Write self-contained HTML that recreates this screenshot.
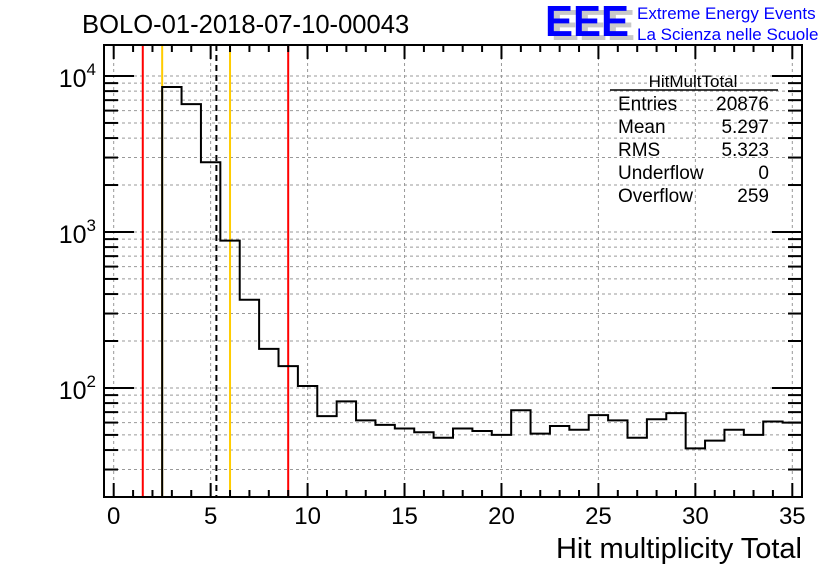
<!DOCTYPE html>
<html><head><meta charset="utf-8"><style>
body{margin:0;background:#fff;}
svg{display:block;font-family:"Liberation Sans",sans-serif;}
</style></head><body>
<svg id="c" width="836" height="572" xmlns="http://www.w3.org/2000/svg">
<text x="82" y="33" font-size="25.6">BOLO-01-2018-07-10-00043</text>
<g>
<text x="551" y="40" font-size="44" font-weight="bold" fill="#c8c8c8" textLength="84" lengthAdjust="spacingAndGlyphs">EEE</text>
<text x="545" y="36" font-size="44" font-weight="bold" fill="#0000ff" textLength="84" lengthAdjust="spacingAndGlyphs">EEE</text>
<text x="637" y="19" font-size="17" fill="#0000ff">Extreme Energy Events</text>
<text x="637" y="40" font-size="17" fill="#0000ff">La Scienza nelle Scuole</text>
</g>
<g id="grid"></g>
<g id="marks"></g>
<g id="axes"></g>
<g font-size="19">
<text x="693" y="87" text-anchor="middle" font-size="17">HitMultTotal</text>
<line x1="610" y1="90" x2="778" y2="90" stroke="#000" stroke-width="1.5"/>
<text x="618" y="110">Entries</text><text x="769" y="110" text-anchor="end">20876</text>
<text x="618" y="133">Mean</text><text x="769" y="133" text-anchor="end">5.297</text>
<text x="618" y="156">RMS</text><text x="769" y="156" text-anchor="end">5.323</text>
<text x="618" y="179">Underflow</text><text x="769" y="179" text-anchor="end">0</text>
<text x="618" y="202">Overflow</text><text x="769" y="202" text-anchor="end">259</text>
</g>
<text x="802" y="558" font-size="29" text-anchor="end">Hit multiplicity Total</text>
</svg>
<script>
const binCenters=[3,4,5,6,7,8,9,10,11,12,13,14,15,16,17,18,19,20,21,22,23,24,25,26,27,28,29,30,31,32,33,34,35];
const counts=[8500,6600,2800,880,368,178,138,103,66,82,62,58,55,52,48,55,53,50,72,51,57,54,67,62,48,63,69,41,46,54,50,61,60];
const xTicks=[0,5,10,15,20,25,30,35];
const yDecades=[2,3,4];
const redLines=[1.5,9];
const orangeLines=[2.5,6];
const meanLine=[5.297];
const L=104,R=802,T=45,B=497,xmin=-0.5,xmax=35.5,ymin=Math.log10(20),ymax=Math.log10(15800);
const X=v=>L+(v-xmin)/(xmax-xmin)*(R-L);
const Y=v=>B-(Math.log10(v)-ymin)/(ymax-ymin)*(B-T);
const NS="http://www.w3.org/2000/svg";
function mk(p,tag,a){const e=document.createElementNS(NS,tag);for(const k in a)e.setAttribute(k,a[k]);document.getElementById(p).appendChild(e);return e;}
xTicks.forEach(t=>{const e=mk('grid','line',{x1:X(t),x2:X(t),y1:T,y2:B,stroke:'#999','stroke-dasharray':'3,3'});

});
for(let d=1;d<=4;d++)for(let m=1;m<=9;m++){const v=m*Math.pow(10,d);const y=Y(v);if(y<T||y>B)continue;
const e=mk('grid','line',{x1:L,x2:R,y1:y,y2:y,stroke:'#999','stroke-dasharray':'3,3'});

}
redLines.forEach(v=>{const e=mk('marks','line',{x1:X(v),x2:X(v),y1:T,y2:B,stroke:'#ff0000','stroke-width':2});

});
orangeLines.forEach(v=>{const e=mk('marks','line',{x1:X(v),x2:X(v),y1:T,y2:B,stroke:'#ffcc00','stroke-width':2});

});
meanLine.forEach(v=>{const e=mk('marks','line',{x1:X(v),x2:X(v),y1:T,y2:B,stroke:'#000','stroke-width':2,'stroke-dasharray':'6,4'});

});
let d=`M${X(binCenters[0]-0.5)},${B}`;
binCenters.forEach((c,i)=>{const y=Math.min(B,Y(counts[i]));d+=` L${X(c-0.5)},${y} L${X(c+0.5)},${y}`;});
const h=mk('marks','path',{d:d,fill:'none',stroke:'#000','stroke-width':2});


const f=mk('axes','rect',{x:L,y:T,width:R-L,height:B-T,fill:'none',stroke:'#000','stroke-width':2});


for(let v=0;v<=35;v++){const len=v%5==0?14:7;
mk('axes','line',{x1:X(v),x2:X(v),y1:B,y2:B-len,stroke:'#000','stroke-width':2});
mk('axes','line',{x1:X(v),x2:X(v),y1:T,y2:T+len,stroke:'#000','stroke-width':2});}
xTicks.forEach(t=>{const e=mk('axes','text',{x:X(t),y:524,'font-size':24,'text-anchor':'middle'});e.textContent=t;

});
for(let dd=1;dd<=4;dd++)for(let m=1;m<=9;m++){const y=Y(m*Math.pow(10,dd));if(y<T||y>B)continue;const len=m==1?30:14;
mk('axes','line',{x1:L,x2:L+len,y1:y,y2:y,stroke:'#000','stroke-width':2});
mk('axes','line',{x1:R,x2:R-len,y1:y,y2:y,stroke:'#000','stroke-width':2});}
yDecades.forEach(p=>{const e=mk('axes','text',{x:96,y:Y(Math.pow(10,p))+11,'font-size':25,'text-anchor':'end'});
e.innerHTML=`10<tspan dy="-12" font-size="17">${p}</tspan>`;

});
</script>
</body></html>
